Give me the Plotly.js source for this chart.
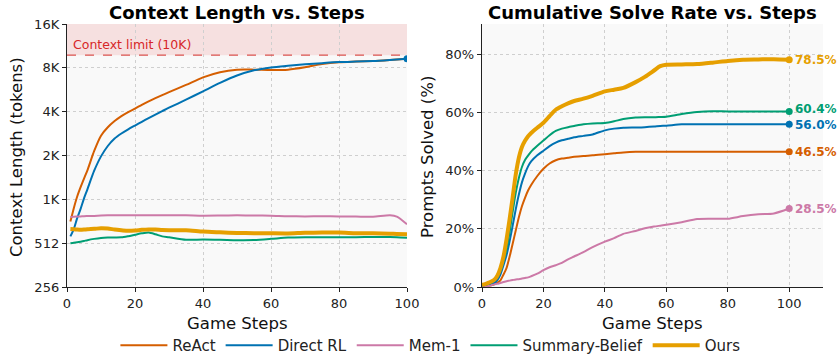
<!DOCTYPE html>
<html><head><meta charset="utf-8">
<script src="https://cdn.plot.ly/plotly-3.0.1.min.js"></script>
<style>html,body{margin:0;padding:0;background:#fff}#chart{width:839px;height:362px}</style>
</head><body><div id="chart"></div>
<script>
// ---------- data ----------
const seriesNames = ["ReAct", "Direct RL", "Mem-1", "Summary-Belief", "Ours"];
const seriesColors = ["#D55E00", "#0072B2", "#CC79A7", "#009E73", "#E69F00"];

// Left: context length (tokens) vs game steps
const ctxSteps = [1,2,3,4,5,6,8,10,12,14,16,18,20,22,24,26,28,30,35,40,45,50,55,60,65,70,75,80,85,90,95,97,100];
const ctxReAct   = [720,890,1070,1240,1420,1620,2200,2800,3200,3530,3820,4070,4300,4560,4820,5070,5320,5580,6250,7050,7650,7950,7960,7920,7960,8260,8700,8960,9050,9130,9280,9350,9450];
const ctxDirect  = [570,640,760,880,1040,1200,1610,2020,2380,2680,2900,3100,3290,3490,3700,3910,4130,4360,4950,5650,6450,7250,7880,8250,8470,8660,8820,8970,9050,9130,9280,9350,9450];
const ctxMem1    = [775,778,780,782,785,786,788,792,795,795,795,795,795,796,797,797,796,796,795,790,792,795,793,790,783,782,783,781,780,778,795,780,690];
const ctxSummary = [512,515,519,524,530,537,548,556,560,561,562,572,585,598,606,590,570,562,540,543,541,537,538,548,560,563,563,562,563,564,565,563,558];
const ctxOurs    = [640,638,635,633,635,638,642,648,645,635,628,622,625,632,636,635,630,628,628,615,608,602,600,598,597,603,605,605,600,598,595,593,590];
const ctxTickVals = [256,512,1024,2048,4096,8192,16384];
const ctxTickText = ["256","512","1K","2K","4K","8K","16K"];
const ctxLimit = 10000;
const ctxLimitLabel = "Context limit (10K)";

// Right: cumulative solve rate (%) vs game steps
const solveSteps = [0,1,2,3,4,5,6,7,8,9,10,11,12,13,14,15,16,18,20,22,24,26,28,30,33,36,40,43,46,50,53,56,58,60,65,70,75,80,85,90,95,100];
const solveReAct   = [0.2,0.3,0.4,0.6,0.9,1.5,2.3,4.3,6.6,10.5,15,19.5,24,27.8,30.7,33.2,35.1,38.2,40.7,42.5,43.6,44.2,44.5,44.8,45.1,45.3,45.7,46,46.3,46.5,46.5,46.5,46.5,46.5,46.5,46.5,46.5,46.5,46.5,46.5,46.5,46.5];
const solveDirect  = [0.3,0.4,0.6,0.9,1.4,2.4,4.3,7.5,11,15.8,21.2,26.8,31.8,36,39,41.5,43.2,45.3,46.9,48.5,49.7,50.5,51,51.5,52,52.5,53.9,54.5,54.8,54.9,55,55.2,55.4,55.5,56,56,56,56,56,56,56,56];
const solveMem1    = [0.1,0.2,0.4,0.6,0.9,1.1,1.4,1.7,2.0,2.2,2.4,2.6,2.7,2.9,3.1,3.3,3.7,4.6,5.8,6.8,7.5,8.3,9.5,10.5,12,13.7,15.6,16.8,18.3,19.3,20.2,20.8,21.1,21.4,22.3,23.4,23.5,23.5,24.4,25,25.3,27];
const solveSummary = [0.5,0.7,1.0,1.4,2.3,3.5,5.5,9,13.2,19,26,32.5,37.5,41.3,43.7,45.2,46.6,48.6,50.4,52.2,53.7,54.5,55,55.4,56,56.3,56.4,57,57.8,58.3,58.4,58.4,58.5,58.6,59.5,60.2,60.5,60.4,60.4,60.4,60.4,60.4];
const solveOurs    = [0.8,1.0,1.4,1.9,2.5,3.9,6.5,10.5,16.5,23.5,31,38.8,44.5,48.2,50.3,51.9,53,54.8,56.5,58.8,61,62.2,63.2,64,64.8,65.8,67.3,67.9,68.5,70.5,72.3,74.5,76,76.5,76.6,76.7,77.2,77.8,78.2,78.3,78.4,78.2];
const solveFinalLabels = ["46.5%", "56.0%", "28.5%", "60.4%", "78.5%"];
const solveTickVals = [0,20,40,60,80];
const solveTickText = ["0%","20%","40%","60%","80%"];
const stepTicks = [0,20,40,60,80,100];

// ---------- build ----------
const ctxData = [ctxReAct, ctxDirect, ctxMem1, ctxSummary, ctxOurs];
const solveData = [solveReAct, solveDirect, solveMem1, solveSummary, solveOurs];
const FONT = "DejaVu Sans, sans-serif";
const W = 839, H = 362;
const px = v => v / W, py = v => 1 - v / H;
const traces = [];
ctxData.forEach((ys, i) => {
  traces.push({x: ctxSteps, y: ys, type: "scatter", mode: "lines", name: seriesNames[i],
    line: {color: seriesColors[i], width: i === 4 ? 4 : 2, shape: "spline", smoothing: 0.7},
    xaxis: "x", yaxis: "y", showlegend: true, legendgroup: seriesNames[i]});
});
traces.push({x: [ctxSteps[ctxSteps.length-1]], y: [ctxDirect[ctxDirect.length-1]], type: "scatter", mode: "markers",
  marker: {color: seriesColors[1], size: 7}, xaxis: "x", yaxis: "y", showlegend: false, hoverinfo: "skip"});
solveData.forEach((ys, i) => {
  traces.push({x: solveSteps, y: ys, type: "scatter", mode: "lines", name: seriesNames[i],
    line: {color: seriesColors[i], width: i === 4 ? 4 : 2, shape: "spline", smoothing: 0.7},
    xaxis: "x2", yaxis: "y2", showlegend: false, legendgroup: seriesNames[i]});
  traces.push({x: [solveSteps[solveSteps.length-1]], y: [ys[ys.length-1]], type: "scatter", mode: "markers",
    marker: {color: seriesColors[i], size: 7}, xaxis: "x2", yaxis: "y2", showlegend: false, hoverinfo: "skip"});
});

const titleFont = {family: FONT, size: 16.5, color: "#111"};
const annotations = [
  {text: "<b>Context Length vs. Steps</b>", xref: "paper", yref: "paper", x: px(237), y: py(12),
   xanchor: "center", yanchor: "middle", showarrow: false, font: {family: FONT, size: 18, color: "#000"}},
  {text: "<b>Cumulative Solve Rate vs. Steps</b>", xref: "paper", yref: "paper", x: px(652), y: py(12),
   xanchor: "center", yanchor: "middle", showarrow: false, font: {family: FONT, size: 18, color: "#000"}},
  {text: "Game Steps", xref: "paper", yref: "paper", x: px(237), y: py(323), xanchor: "center", yanchor: "middle",
   showarrow: false, font: titleFont},
  {text: "Game Steps", xref: "paper", yref: "paper", x: px(652), y: py(323), xanchor: "center", yanchor: "middle",
   showarrow: false, font: titleFont},
  {text: "Context Length (tokens)", xref: "paper", yref: "paper", x: px(17), y: py(157), textangle: -90,
   xanchor: "center", yanchor: "middle", showarrow: false, font: titleFont},
  {text: "Prompts Solved (%)", xref: "paper", yref: "paper", x: px(428), y: py(157), textangle: -90,
   xanchor: "center", yanchor: "middle", showarrow: false, font: titleFont},
  {text: ctxLimitLabel, xref: "x", yref: "y", x: 1.2, y: Math.log10(ctxLimit), yshift: 11, xanchor: "left", yanchor: "middle",
   showarrow: false, font: {family: FONT, size: 12.5, color: "#d62728"}}
];
const labelShift = [0, -1, 0, 2, 0];
solveData.forEach((ys, i) => {
  annotations.push({text: "<b>" + solveFinalLabels[i] + "</b>", xref: "x2", yref: "y2",
    x: solveSteps[solveSteps.length-1], y: ys[ys.length-1], xshift: 5, yshift: labelShift[i],
    xanchor: "left", yanchor: "middle", borderpad: 0,
    showarrow: false, font: {family: FONT, size: 12, color: seriesColors[i]}});
});

const shapes = [
  {type: "rect", xref: "x", yref: "y", x0: 0, x1: 100, y0: ctxLimit, y1: 16384,
   fillcolor: "rgba(230,60,60,0.13)", line: {width: 0}, layer: "below"},
  {type: "line", xref: "x", yref: "y", x0: 0, x1: 100, y0: ctxLimit, y1: ctxLimit,
   line: {color: "#d9534f", width: 1.3, dash: "dash"}}
];

const axisCommon = {
  showgrid: true, gridcolor: "#cfcfcf", griddash: "dot", gridwidth: 1,
  showline: true, linecolor: "#222", linewidth: 1.2, ticks: "outside", ticklen: 4, tickcolor: "#222",
  tickfont: {family: FONT, size: 13, color: "#222"}, zeroline: false, automargin: false
};

const layout = {
  width: W, height: H, margin: {l: 0, r: 0, t: 0, b: 0},
  paper_bgcolor: "#ffffff", plot_bgcolor: "#f9f9f9",
  font: {family: FONT},
  xaxis: Object.assign({}, axisCommon, {domain: [px(67), px(407)], range: [0, 100], tickvals: stepTicks, anchor: "y"}),
  yaxis: Object.assign({}, axisCommon, {domain: [py(287), py(24)], type: "log",
    range: [Math.log10(256), Math.log10(16384)], tickvals: ctxTickVals, ticktext: ctxTickText, anchor: "x"}),
  xaxis2: Object.assign({}, axisCommon, {domain: [px(482), px(823)], range: [0, 111], tickvals: stepTicks, anchor: "y2"}),
  yaxis2: Object.assign({}, axisCommon, {domain: [py(287), py(24)], range: [0, 90.5],
    tickvals: solveTickVals, ticktext: solveTickText, anchor: "x2"}),
  showlegend: true,
  legend: {orientation: "h", x: 0.513, xanchor: "center", y: 0, yanchor: "bottom",
    font: {family: FONT, size: 15, color: "#222"}, itemwidth: 47, bgcolor: "rgba(0,0,0,0)"},
  annotations: annotations, shapes: shapes
};

Plotly.newPlot("chart", traces, layout, {displayModeBar: false, staticPlot: true});
</script></body></html>
